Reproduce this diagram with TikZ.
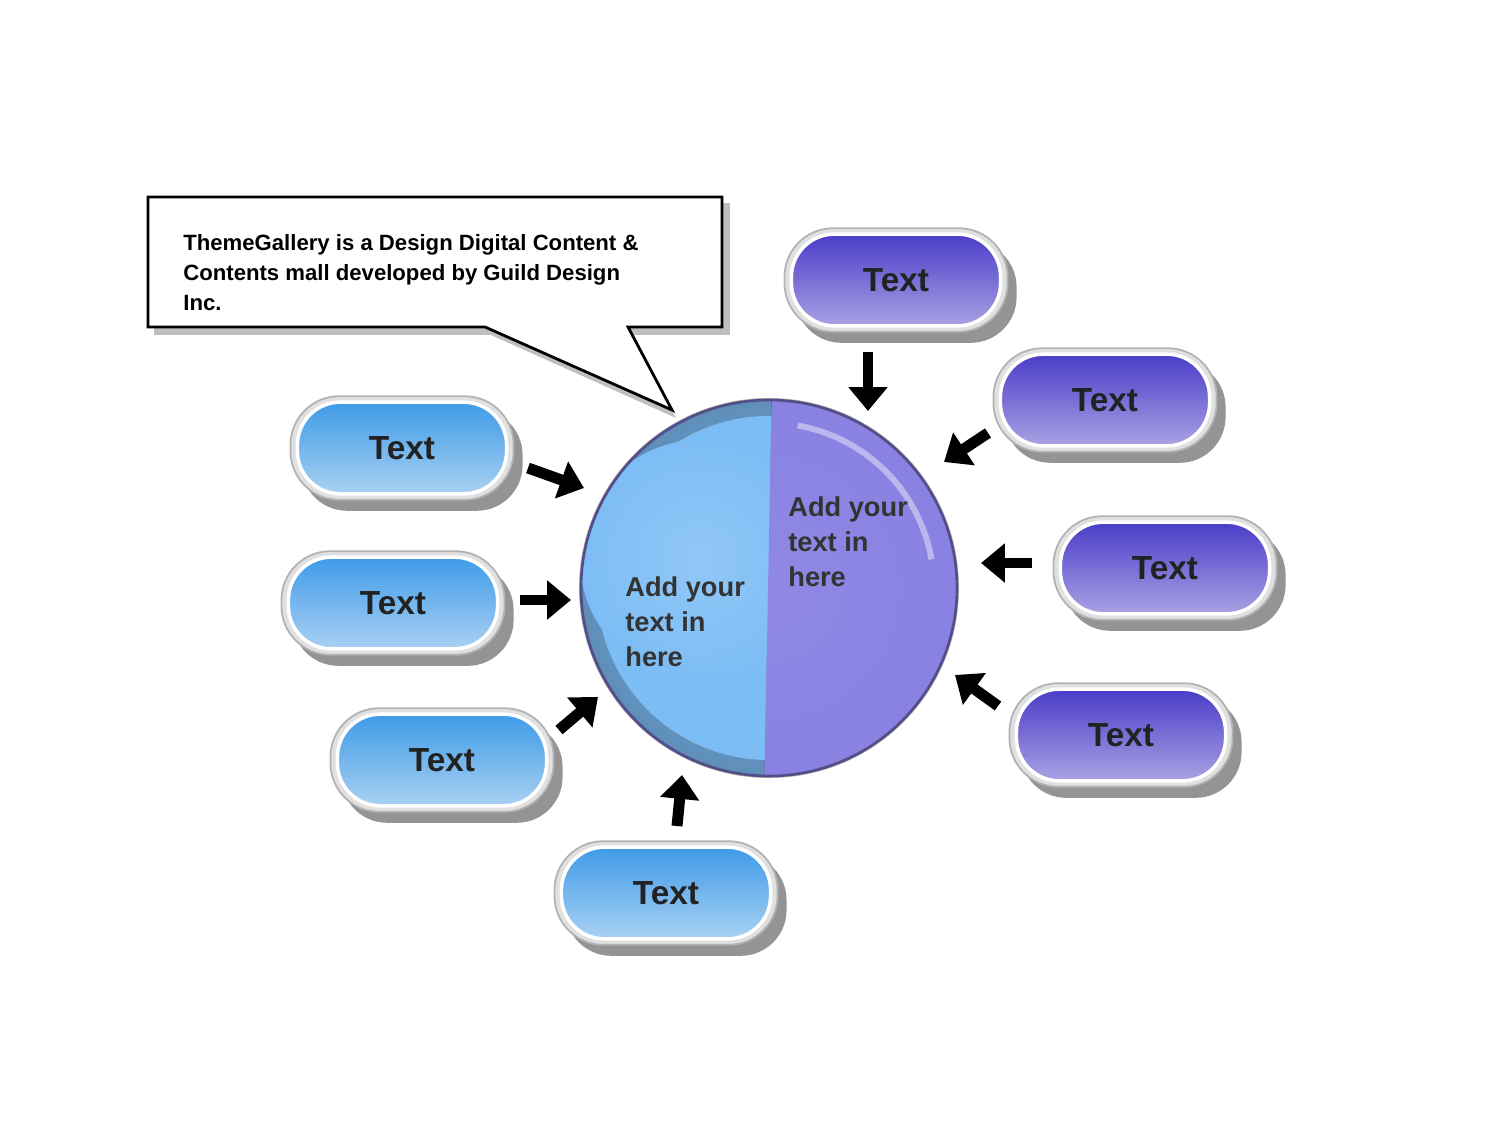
\documentclass[tikz,border=0pt]{standalone}
\usepackage{fontspec}
\setmainfont{Liberation Sans}
\usetikzlibrary{arrows.meta,shadings}
\definecolor{bTop}{HTML}{3F9BE8}
\definecolor{bBot}{HTML}{A9D1F3}
\definecolor{pTop}{HTML}{4A3CC8}
\definecolor{pBot}{HTML}{A9A2E3}
\definecolor{cBlue}{HTML}{7DBDF5}
\definecolor{cPurp}{HTML}{8A82E2}
\definecolor{txt}{HTML}{222222}
\tikzset{
 shad/.style={fill=black!42,rounded corners=46*0.567pt,minimum width=222*0.567pt,minimum height=102*0.567pt},
 ring/.style={fill=black!12,draw=black!30,line width=1pt,rounded corners=49*0.567pt,minimum width=224*0.567pt,minimum height=104*0.567pt},
 pill/.style={rounded corners=43*0.567pt,minimum width=210*0.567pt,minimum height=92*0.567pt,draw=white,line width=3.5*0.567pt,
   font=\fontsize{19}{22}\selectfont\bfseries,text=txt},
 bpill/.style={pill,top color=bTop,bottom color=bBot},
 ppill/.style={pill,top color=pTop,bottom color=pBot},
 arr/.style={line width=11*0.567pt,-{Triangle[length=24*0.567pt,width=38*0.567pt]}},
 ctext/.style={align=left,anchor=north west,font=\fontsize{15.5}{20}\selectfont\bfseries,text=black!80,inner sep=0pt}
}
\newcommand{\mypill}[4]{%
 \node[shad] at (#2+10,#3+12) {};
 \node[ring] at (#2,#3) {};
 \node[#4] (#1) at (#2,#3) {Text};}
\begin{document}
\begin{tikzpicture}[x=0.02cm,y=-0.02cm]
\useasboundingbox (0,0) rectangle (1500,1125);
% callout
\fill[black!25] (154,203) rectangle (730,335);
\fill[black!25] (491,335) -- (676,418) -- (634,335) -- cycle;
\draw[line width=2.8*0.567pt,fill=white] (148,197) -- (722,197) -- (722,327) -- (628,327) -- (672,410) -- (485,327) -- (148,327) -- cycle;
\node[anchor=north west,align=left,font=\fontsize{12.6}{17}\selectfont\bfseries,inner sep=0pt] (call) at (183,234)
 {ThemeGallery is a Design Digital Content \&\\Contents mall developed by Guild Design\\Inc.};
% circle
\coordinate (cc) at (769,588);
\fill[black!30] (cc) circle (190);
\begin{scope}
\clip (cc) circle (188);
\fill[inner color=cBlue!90!white,outer color=cBlue!75!black] (cc) circle (188);
\fill[inner color=cPurp,outer color=cPurp!80!black] (772,380) -- (1000,380) -- (1000,800) -- (764,800) -- cycle;
\fill[cBlue] (769,588) circle (172);
\fill[cPurp] (772,380) -- (1000,380) -- (1000,800) -- (764,800) -- cycle;
\shade[inner color=cBlue!85!white,outer color=cBlue] (700,560) circle (120);
\end{scope}
\begin{scope}
\clip (772,380) -- (1000,380) -- (1000,800) -- (764,800) -- cycle;
\clip (cc) circle (185);
\shade[inner color=cPurp!95!white,outer color=cPurp] (cc) circle (170);
\draw[white!70!cPurp,line width=6*0.567pt,opacity=0.6] (cc) ++(-10:165) arc (-10:-80:165);
\end{scope}
\draw[cPurp!60!black,line width=1.5pt] (cc) circle (188);
\node[ctext] (tl) at (625,576) {Add your\\text in\\here};
\node[ctext] (tr) at (788,496) {Add your\\text in\\here};
% pills
\mypill{b1}{402}{448}{bpill}
\mypill{b2}{393}{603}{bpill}
\mypill{b3}{442}{760}{bpill}
\mypill{b4}{666}{893}{bpill}
\mypill{p1}{896}{280}{ppill}
\mypill{p2}{1105}{400}{ppill}
\mypill{p3}{1165}{568}{ppill}
\mypill{p4}{1121}{735}{ppill}
% arrows
\coordinate (a1s) at (868,352); \coordinate (a1e) at (868,411);
\coordinate (a2s) at (988,433); \coordinate (a2e) at (944,462);
\coordinate (a3s) at (1032,563); \coordinate (a3e) at (981,563);
\coordinate (a4s) at (998,706); \coordinate (a4e) at (955,675);
\coordinate (a5s) at (528,468); \coordinate (a5e) at (584,488);
\coordinate (a6s) at (520,600); \coordinate (a6e) at (571,600);
\coordinate (a7s) at (559,730); \coordinate (a7e) at (598,697);
\coordinate (a8s) at (677,826); \coordinate (a8e) at (682,775);
\foreach \i in {1,...,8}{\draw[arr] (a\i s) -- (a\i e);}
\end{tikzpicture}
\end{document}
